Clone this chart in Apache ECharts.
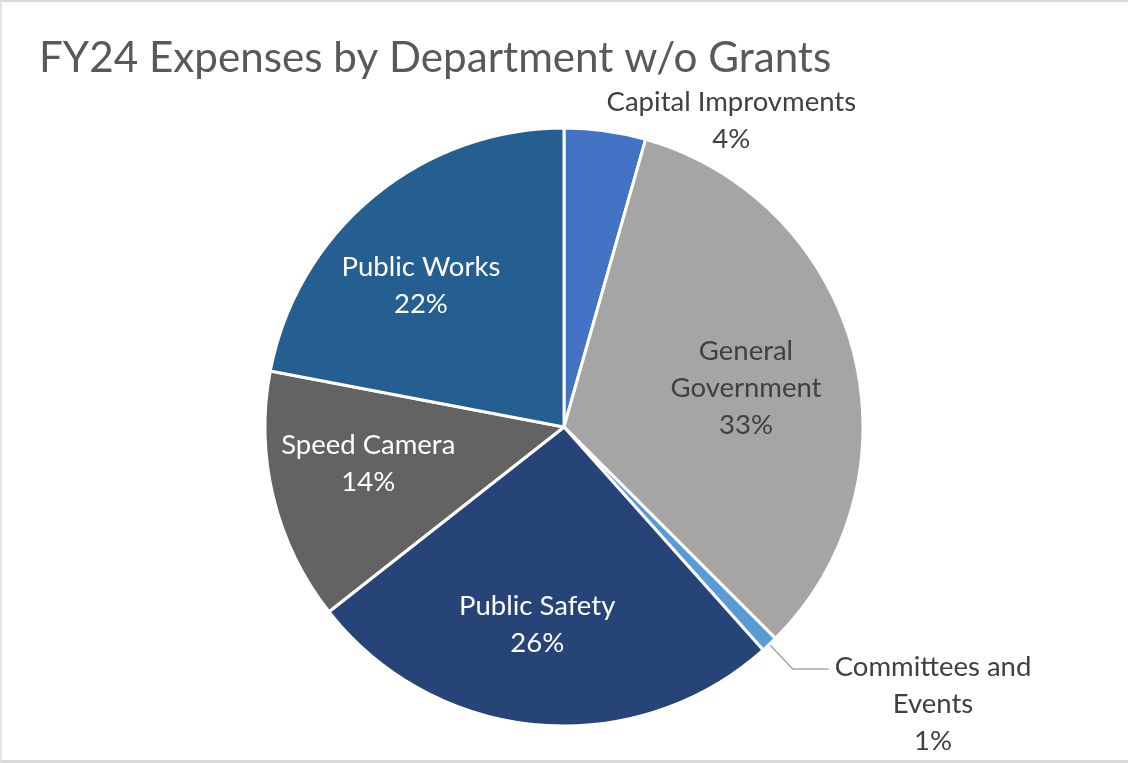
<!DOCTYPE html>
<html>
<head>
<meta charset="utf-8">
<script src="https://cdn.jsdelivr.net/npm/echarts@6/dist/echarts.min.js"></script>
<style>
  html, body { margin: 0; padding: 0; background: #ffffff; }
  #frame {
    width: 1128px; height: 763px; box-sizing: border-box;
    border-top: 2px solid #d9d9d9; border-left: 2px solid #e6e6e6; border-bottom: 3px solid #d9d9d9;
  }
  #chart { width: 100%; height: 100%; }
</style>
</head>
<body>
<div id="frame"><div id="chart"></div></div>
<script>
// FY24 expense share by department (grants excluded), in percent
const departments = ['Capital Improvments', 'General Government', 'Committees and Events', 'Public Safety', 'Speed Camera', 'Public Works'];
const shares = [4.4, 33.1, 0.9, 26.0, 13.6, 22.0];
const sliceColors = ['#4472C4', '#A5A5A5', '#5B9BD5', '#264478', '#636363', '#255E91'];
// label line breaks for each department
const labelNames = ['Capital Improvments', 'General\nGovernment', 'Committees and\nEvents', 'Public Safety', 'Speed Camera', 'Public Works'];
const insideTextColors = ['#ffffff', '#404040', '#ffffff', '#ffffff', '#ffffff', '#ffffff'];
// small nudges of the inside labels away from the exact mid-angle
const insideLabelNudge = [[0, 0], [-14, 12], [0, 0], [-9, -4], [1, -11], [-14, 15]];

const FONT = 'Lato, "Open Sans", sans-serif';
const LABEL_SIZE = 27.5;
const CENTER = [562, 425];
const RADIUS = 299;

function pctText(p) { return Math.round(p) + '%'; }

const chart = echarts.init(document.getElementById('chart'), null, { renderer: 'canvas' });

// main slices: the two thin slices carry outside labels
const sliceData = departments.map((name, i) => {
  const item = { name: name, value: shares[i], itemStyle: { color: sliceColors[i] } };
  if (i === 0) {
    item.label = {
      show: true, position: 'outside', distanceToLabelLine: 0,
      formatter: p => '{c|' + labelNames[i] + '}\n{c|' + pctText(p.percent) + '}'
    };
    item.labelLine = { show: false, length: 10, length2: 0 };
  } else if (i === 2) {
    item.label = {
      show: true, position: 'outside', distanceToLabelLine: 6,
      padding: [70, 0, 0, 0],
      formatter: p => labelNames[i].split('\n').concat([pctText(p.percent)]).map(s => '{c|' + s + '}').join('\n')
    };
    item.labelLine = { show: true, length: 34, length2: 36, lineStyle: { color: '#A6A6A6', width: 1.5 } };
  } else {
    item.label = { show: false };
    item.labelLine = { show: false };
  }
  return item;
});

// transparent ring that only positions the inside labels further out
const labelData = departments.map((name, i) => ({
  name: name, value: shares[i],
  label: (i === 0 || i === 2) ? { show: false } : {
    show: true,
    offset: insideLabelNudge[i],
    formatter: p => labelNames[i].split('\n').concat([pctText(p.percent)]).map(s => '{t|' + s + '}').join('\n'),
    rich: { t: { color: insideTextColors[i], fontFamily: FONT, fontSize: LABEL_SIZE, lineHeight: 37, align: 'center' } }
  }
}));

chart.setOption({
  animation: false,
  title: {
    text: 'FY24 Expenses by Department w/o Grants',
    left: 32, top: 30,
    textStyle: { fontFamily: FONT, fontSize: 42.2, fontWeight: 'normal', color: '#595959' }
  },
  series: [
    {
      type: 'pie',
      center: CENTER,
      radius: [0, RADIUS],
      startAngle: 90,
      clockwise: true,
      avoidLabelOverlap: false,
      silent: true,
      itemStyle: { borderColor: '#ffffff', borderWidth: 3 },
      label: {
        fontFamily: FONT, fontSize: LABEL_SIZE, color: '#404040',
        rich: { c: { fontFamily: FONT, fontSize: LABEL_SIZE, lineHeight: 37, color: '#404040', align: 'center' } }
      },
      data: sliceData
    },
    {
      type: 'pie',
      center: CENTER,
      radius: [100, RADIUS],
      startAngle: 90,
      clockwise: true,
      silent: true,
      avoidLabelOverlap: false,
      itemStyle: { color: 'rgba(0,0,0,0)', borderWidth: 0 },
      label: { position: 'inside' },
      labelLine: { show: false },
      data: labelData
    }
  ]
});
</script>
</body>
</html>
